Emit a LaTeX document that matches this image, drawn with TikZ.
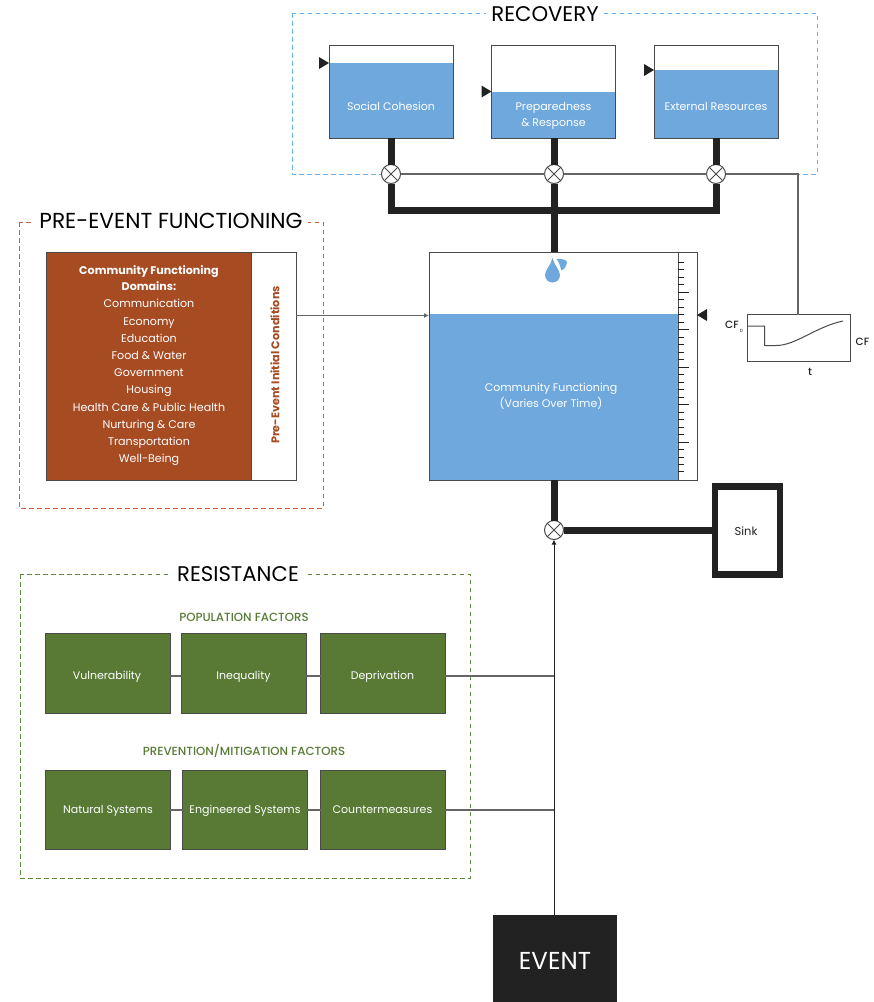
\documentclass[tikz,border=0pt]{standalone}
\usepackage{fontspec}
\setmainfont{Poppins}
\newfontfamily\medfont{Poppins Medium}
\usetikzlibrary{arrows.meta}
\definecolor{water}{HTML}{6FA8DC}
\definecolor{rust}{HTML}{A64B22}
\definecolor{moss}{HTML}{587A35}
\definecolor{ink}{HTML}{222222}
\definecolor{rim}{HTML}{4A4A4A}
\definecolor{dashblue}{HTML}{66B2EC}
\definecolor{dashred}{HTML}{C8603F}
\definecolor{dashgreen}{HTML}{5E8A3C}
\tikzset{
  x=1pt,y=-1pt,
  box/.style={draw=rim,line width=1pt,inner sep=0pt,outer sep=0pt,anchor=center},
  tank/.style={box,minimum width=124pt,minimum height=93pt},
  waterfill/.style={fill=water,draw=none},
  tanklabel/.style={text=white,font=\fontsize{11}{16}\selectfont,align=center,inner sep=0pt},
  valve/.style={circle,draw=rim,fill=white,line width=1pt,minimum size=19pt,inner sep=0pt,outer sep=0pt,
    path picture={\draw[rim,line width=1pt]
      (path picture bounding box.north west)--(path picture bounding box.south east)
      (path picture bounding box.north east)--(path picture bounding box.south west);}},
  pipe/.style={draw=ink,line width=7pt},
  signal/.style={draw=rim!85,line width=1.1pt},
  marker/.style={fill=ink,draw=none},
  frame/.style={dash pattern=on 4.5pt off 3.5pt,line width=1pt},
  frametitle/.style={fill=white,inner sep=0pt,inner xsep=5pt,text=black,font=\fontsize{21.2}{22}\selectfont},
  greenbox/.style={box,fill=moss,text=white,minimum width=124.5pt,minimum height=79.5pt},
  factor/.style={text=moss,inner sep=0pt,font=\fontsize{11.8}{12}\medfont},
  small/.style={text=ink,inner sep=0pt,font=\fontsize{10.5}{12}\medfont},
}
\begin{document}
\begin{tikzpicture}
\useasboundingbox (0,0) rectangle (874,1002);
% frames
\draw[frame,dashblue] (292,13) rectangle (817,174);
\node[frametitle] (rectitle) at (545,14) {RECOVERY};
\draw[frame,dashred] (19,222) rectangle (323,508);
\node[frametitle,font=\fontsize{21.7}{22}\selectfont] (pretitle) at (171,221) {PRE-EVENT FUNCTIONING};
\draw[frame,dashgreen] (20,574) rectangle (470,878);
\node[frametitle] (restitle) at (238,574) {RESISTANCE};
% recovery tanks
\fill[waterfill] (329,63) rectangle (453,138);
\fill[waterfill] (491.5,91.5) rectangle (615.5,138);
\fill[waterfill] (654,70) rectangle (778,138);
\node[tank] (social) at (391,91.5) {};
\node[tank] (prep) at (553.5,91.5) {};
\node[tank] (ext) at (716,91.5) {};
\node[tanklabel] (sociallabel) at (391,106.5) {Social Cohesion};
\node[tanklabel] (preplabel) at (553.5,115.5) {Preparedness\\\& Response};
\node[tanklabel] (extlabel) at (716,106.5) {External Resources};
\fill[marker] (329,63)--(319,57)--(319,69)--cycle;
\fill[marker] (491.5,91.5)--(481.5,85.5)--(481.5,97.5)--cycle;
\fill[marker] (654,70)--(644,64)--(644,76)--cycle;
% main tank
\fill[waterfill] (429,314) rectangle (678,480);
\node[box,minimum width=268pt,minimum height=228pt] (main) at (563,366) {};
\node[box,minimum width=19pt,minimum height=228pt] (gauge) at (687.5,366) {};
\foreach \yy in {262,269.5,277,284.5,299.5,307,314.5,322,337,344.5,352,359.5,374.5,382,389.5,397,412,419.5,427,434.5,449.5,457,464.5,471}
  \draw[ink,line width=.8pt] (678,\yy)--(684,\yy);
\foreach \yy in {292,329.5,367,404.5,442}
  \draw[ink,line width=.8pt] (678,\yy)--(689,\yy);
\fill[marker] (697,315)--(707,309)--(707,321)--cycle;
\node[tanklabel] (mainlabel) at (551,396) {Community Functioning\\(Varies Over Time)};
% droplet
\fill[water] (552.5,258) .. controls (554,265) and (560,270) .. (560,275) .. controls (560,279.5) and (556.5,282.5) .. (552.5,282.5)
  .. controls (548.5,282.5) and (545,279.5) .. (545,275) .. controls (545,270) and (551,265) .. (552.5,258) -- cycle;
\fill[water] (556.5,259) .. controls (561,258.5) and (566,259.5) .. (567,262) .. controls (567,266.5) and (563,270) .. (561.5,270.5)
  .. controls (560,267) and (560,263) .. (556.5,259) -- cycle;
% valves
\node[valve] (v1) at (391,174) {};
\node[valve] (v2) at (554,174) {};
\node[valve] (v3) at (716,174) {};
\node[valve] (v4) at (554,530) {};
% pipes
\coordinate (bus) at (554,210);
\draw[pipe] (social.south) -- (v1.north);
\draw[pipe] (prep.south -| v2.north) -- (v2.north);
\draw[pipe] (ext.south -| v3.north) -- (v3.north);
\draw[pipe] (v1.south) |- (bus) -| (v3.south);
\draw[pipe] (v2.south) -- (bus);
\draw[pipe] (bus) -- (v2.south |- main.north);
\draw[pipe] (v4.north |- main.south) -- (v4.north);
% sink
\node[draw=ink,line width=6.5pt,minimum width=65pt,minimum height=88pt,inner sep=0pt,outer sep=0pt] (sink) at (747.5,530.5) {};
\node[text=ink,inner sep=0pt,font=\fontsize{11.5}{12}\selectfont] (sinklabel) at (746,531) {Sink};
\draw[pipe] (v4.east) -- (sink.west |- v4.east);
% control lines
\draw[signal] (v1.east) -- (v2.west);
\draw[signal] (v2.east) -- (v3.west);
\node[box,minimum width=102.5pt,minimum height=47pt,draw=rim] (graph) at (799,338) {};
\coordinate (corner) at (798,174);
\draw[signal] (v3.east) -- (corner) -- (corner |- graph.north);
\draw[rim,line width=1pt] (748,326) -- (764.5,326) -- (764.5,345.5) -- (776,345.5)
  .. controls (796,345.5) and (815,327) .. (843,321);
\node[small] (cfzero) at (732,325) {CF};
\node[small,font=\fontsize{4.5}{6}\selectfont] (cfd) at (741.5,331) {D};
\node[small] (cfright) at (862.5,342) {CF};
\node[small] (tlabel) at (810,372) {t};
% pre-event
\node[box,fill=rust,minimum width=204.5pt,minimum height=228pt] (domains) at (149,366) {};
\node[box,minimum width=45pt,minimum height=228pt] (initial) at (273.5,366) {};
\node[text=white,align=center,inner sep=0pt,font=\fontsize{11.1}{17.2}\selectfont] (domlist) at (149,365.5) {%
{\bfseries Community Functioning}\\[-0.6pt]{\bfseries Domains:}\\Communication\\Economy\\Education\\Food \& Water\\Government\\Housing\\Health Care \& Public Health\\Nurturing \& Care\\Transportation\\Well-Being};
\node[rotate=90,text=rust,inner sep=0pt,font=\fontsize{11.2}{12}\selectfont\bfseries] (initlabel) at (275,365) {Pre-Event Initial Conditions};
\draw[signal,-{Latex[length=5pt,width=5pt]}] (initial.east |- 0,315.5) -- (main.west |- 0,315.5);
% resistance
\node[factor] (popf) at (244,617.5) {POPULATION FACTORS};
\node[factor] (prevf) at (244,750.5) {PREVENTION/MITIGATION FACTORS};
\node[greenbox] (vul) at (108,673.5) {};
\node[tanklabel] (vull) at (107,677) {Vulnerability};
\node[greenbox] (ine) at (244,673.5) {};
\node[tanklabel] (inel) at (243.5,677) {Inequality};
\node[greenbox] (dep) at (383,673.5) {};
\node[tanklabel] (depl) at (382.5,677) {Deprivation};
\node[greenbox] (nat) at (108,810) {};
\node[tanklabel] (natl) at (108,810.5) {Natural Systems};
\node[greenbox] (eng) at (245,810) {};
\node[tanklabel] (engl) at (245,810.5) {Engineered Systems};
\node[greenbox] (cou) at (383,810) {};
\node[tanklabel] (coul) at (382.5,810) {Countermeasures};
\draw[signal] (vul.east |- 0,676) -- (ine.west |- 0,676);
\draw[signal] (ine.east |- 0,676) -- (dep.west |- 0,676);
\draw[signal] (nat.east) -- (eng.west);
\draw[signal] (eng.east) -- (cou.west);
% event
\node[fill=ink,text=white,minimum width=124pt,minimum height=87pt,inner sep=0pt,outer sep=0pt] (event) at (555,958.5) {};
\node[text=white,inner sep=0pt,font=\fontsize{24.5}{26}\selectfont] (eventl) at (555,961) {EVENT};
\draw[draw=ink,line width=1pt,-{Latex[length=5pt,width=5pt]}] (v4.south |- event.north) -- (v4.south);
\coordinate (j1) at (554,676);
\coordinate (j2) at (554,810);
\draw[signal] (dep.east |- j1) -- (j1);
\draw[signal] (cou.east |- j2) -- (j2);
\end{tikzpicture}
\end{document}
